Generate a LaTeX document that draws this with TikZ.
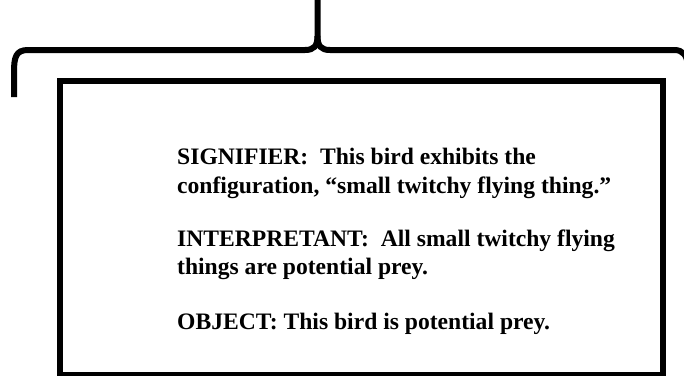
\documentclass[tikz,border=0pt]{standalone}
\usepackage{fontspec}
\setmainfont{Liberation Serif}
\begin{document}
\begin{tikzpicture}[x=1pt,y=-1pt,
  frame/.style={line width=6pt},
  bracepath/.style={line width=6pt},
  txt/.style={anchor=base west,inner sep=0pt,font=\bfseries\fontsize{23.6}{24}\selectfont}]
\useasboundingbox (0,0) rectangle (684,375);
\clip (0,0) rectangle (684,375);
% brace
\coordinate (bl) at (14,97);
\coordinate (tip) at (317.5,36);
\coordinate (top) at (317.5,-3);
\coordinate (br) at (688,66);
\draw[bracepath] (bl) -- (14,72) .. controls (14,57) and (16,50) .. (28,50) -- (305,50)
  .. controls (314,50) and (317.5,46) .. (tip) -- (top);
\draw[bracepath] (tip) .. controls (317.5,46) and (321,50) .. (330,50) -- (674,50)
  .. controls (683,50) and (687,55) .. (br);
% box
\node[frame,draw,minimum width=603pt,minimum height=294pt,inner sep=0pt,anchor=north west] (box) at (57,78) {};
% text
\node[txt] (s1) at (177,164) {SIGNIFIER:\ \ This bird exhibits the};
\node[txt] (s2) at (177,193) {configuration, “small twitchy flying thing.”};
\node[txt] (i1) at (177,246) {INTERPRETANT:\ \ All small twitchy flying};
\node[txt] (i2) at (177,274) {things are potential prey.};
\node[txt] (o1) at (177,329) {OBJECT: This bird is potential prey.};
\end{tikzpicture}
\end{document}
